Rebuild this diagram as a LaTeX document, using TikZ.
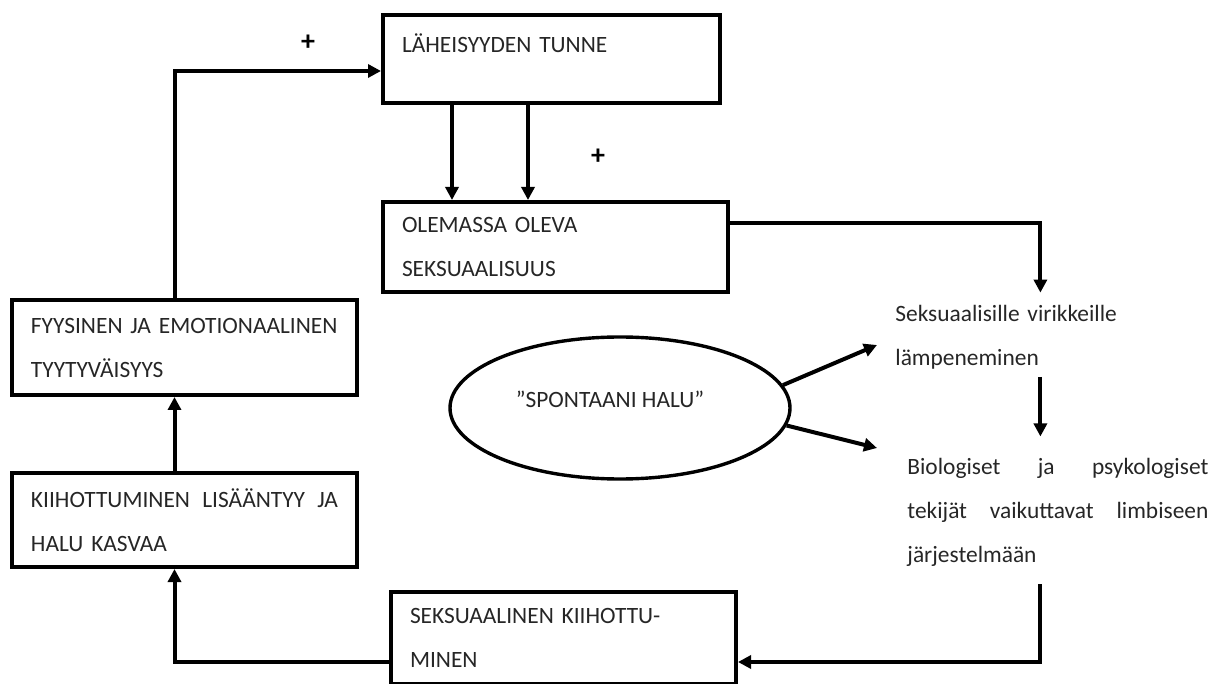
\documentclass[tikz,border=0pt]{standalone}
\usepackage{fontspec}
\setmainfont{Carlito}
\usetikzlibrary{arrows.meta, shapes.geometric}
\newcommand{\boxfont}{\fontsize{11.7}{22}\selectfont}

\begin{document}
\begin{tikzpicture}[x=0.5pt, y=-0.5pt, >={Triangle[length=6.5pt,width=6.5pt]},
    laatikko/.style={draw, line width=2pt, inner xsep=9.5pt, inner ysep=0pt, align=left, font=\boxfont, text=black!85},
    teksti/.style={inner sep=0pt, align=left, font=\boxfont, text=black!85},
    nuoli/.style={->, line width=2pt}]
    \useasboundingbox (0,0) rectangle (1222,684);

    % Boxes of the cycle
    \node[laatikko, text width=149.5pt, minimum height=44pt] (lahe) at (551.5,59) {LÄHEISYYDEN TUNNE\\[-6pt]\mbox{}};
    \node[laatikko, text width=153.5pt, minimum height=45pt] (olem) at (555.5,247) {OLEMASSA OLEVA\\SEKSUAALISUUS};
    \node[laatikko, text width=153.5pt, minimum height=47.5pt] (fyys) at (184.5,347.5) {FYYSINEN JA EMOTIONAALINEN\\TYYTYVÄISYYS};
    \node[laatikko, text width=153.5pt, minimum height=47pt] (kiih) at (184.5,520) {KIIHOTTUMINEN\hfill LISÄÄNTYY\hfill JA\\HALU KASVAA};
    \node[laatikko, text width=153.5pt, minimum height=46pt] (seks) at (563.5,638) {SEKSUAALINEN KIIHOTTU-\\MINEN};

    % Free text on the right
    \node[teksti, text width=150.5pt, anchor=west] (virike) at (895,337) {Seksuaalisille virikkeille\\lämpeneminen};
    \node[teksti, text width=150.5pt, anchor=west] (tekijat) at (907,512) {Biologiset\hfill ja\hfill psykologiset\\tekijät\hfill vaikuttavat\hfill limbiseen\\järjestelmään};

    % Spontaneous desire
    \node[ellipse, draw, line width=1.7pt, minimum width=170pt, minimum height=71pt, text depth=9pt, font=\boxfont, text=black!85] (halu) at (620,408) {”SPONTAANI HALU”\hspace*{10pt}};

    % Plus signs
    \node[font=\fontsize{14}{14}\selectfont\bfseries] (plusa) at (308,43) {+};
    \node[font=\fontsize{14}{14}\selectfont\bfseries] (plusb) at (598,157) {+};

    % Arrows between the boxes
    \foreach \dx in {-49.75pt,-11.75pt}
        \draw[nuoli] ([xshift=\dx]lahe.south) -- ([xshift=\dx]lahe.south |- olem.north);
    \draw[nuoli] ([yshift=12pt]olem.east) -| ([xshift=-2.75pt,yshift=6pt]virike.north);
    \draw[nuoli] ([xshift=-2.75pt,yshift=-3.75pt]virike.south) -- ([xshift=-8.75pt,yshift=10.5pt]tekijat.north);
    \draw[nuoli] ([xshift=-8.75pt,yshift=-8.75pt]tekijat.south) |- ([yshift=-12pt]seks.east);
    \draw[nuoli] ([yshift=-12pt]seks.west) -| ([xshift=-5pt]kiih.south);
    \draw[nuoli] ([xshift=-5pt]kiih.north) -- ([xshift=-5pt]fyys.south);
    \draw[nuoli] ([xshift=-5pt]fyys.north) |- ([yshift=-6pt]lahe.west);

    % From the ellipse
    \draw[nuoli] (halu.8) -- ([xshift=-9pt,yshift=-4pt]virike.west);
    \draw[nuoli] (halu.-6) -- ([xshift=-15pt,yshift=32pt]tekijat.west);
\end{tikzpicture}
\end{document}
